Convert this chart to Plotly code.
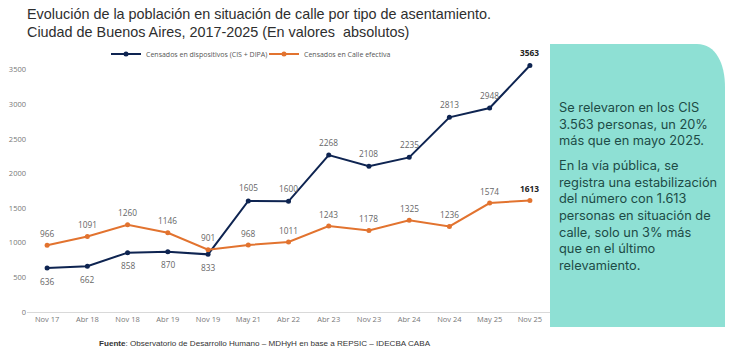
import plotly.graph_objects as go

categories = ["Nov 17", "Abr 18", "Nov 18", "Abr 19", "Nov 19", "May 21", "Abr 22",
              "Abr 23", "Nov 23", "Abr 24", "Nov 24", "May 25", "Nov 25"]
dispositivos = [636, 662, 858, 870, 833, 1605, 1600, 2268, 2108, 2235, 2813, 2948, 3563]
calle = [966, 1091, 1260, 1146, 901, 968, 1011, 1243, 1178, 1325, 1236, 1574, 1613]
disp_label_below = [True, True, True, True, True, False, False, False, False, False, False, False, False]
y_ticks = [0, 500, 1000, 1500, 2000, 2500, 3000, 3500]

NAVY = "#0e2451"
ORANGE = "#e2732f"
W, H = 730, 350
L, R, T, B = 27, 550, 56, 312  # plot area pixels


def px(x):
    return (x - L) / (R - L)


def py(y):
    return (B - y) / (B - T)


fig = go.Figure()
fig.add_trace(go.Scatter(x=categories, y=dispositivos, mode="lines+markers",
                         name="Censados en dispositivos (CIS + DIPA)",
                         line=dict(color=NAVY, width=2), marker=dict(size=5, color=NAVY)))
fig.add_trace(go.Scatter(x=categories, y=calle, mode="lines+markers",
                         name="Censados en Calle efectiva",
                         line=dict(color=ORANGE, width=2), marker=dict(size=5, color=ORANGE)))

ann = []
n = len(categories)
for i, (c, v) in enumerate(zip(categories, dispositivos)):
    txt = f"<b>{v}</b>" if i == n - 1 else str(v)
    ann.append(dict(x=c, y=v, xref="x", yref="y", text=txt, showarrow=False,
                    yshift=-13 if disp_label_below[i] else 13,
                    font=dict(size=8.3, color="#222" if i == n - 1 else "#666", family="Open Sans")))
for i, (c, v) in enumerate(zip(categories, calle)):
    txt = f"<b>{v}</b>" if i == n - 1 else str(v)
    ann.append(dict(x=c, y=v, xref="x", yref="y", text=txt, showarrow=False, yshift=12,
                    font=dict(size=8.3, color="#222" if i == n - 1 else "#666", family="Open Sans")))

# Title (two lines)
title_lines = ["Evolución de la población en situación de calle por tipo de asentamiento.",
               "Ciudad de Buenos Aires, 2017-2025 (En valores  absolutos)"]
for t, yc in zip(title_lines, [14, 32]):
    ann.append(dict(xref="paper", yref="paper", x=px(25), y=py(yc), xanchor="left", yanchor="middle",
                    text=t, showarrow=False, align="left",
                    font=dict(size=14.4, color="#2e2e2e", family="Liberation Sans")))
# Source
ann.append(dict(xref="paper", yref="paper", x=px(97), y=py(343), xanchor="left", yanchor="middle",
                text="<b>Fuente</b>: Observatorio de Desarrollo Humano – MDHyH en base a REPSIC – IDECBA CABA",
                showarrow=False, font=dict(size=8.1, color="#333333", family="Liberation Sans")))
# Side box text
BOXTXT = "#1d4b46"
ann.append(dict(xref="paper", yref="paper", x=px(557), y=py(98), xanchor="left", yanchor="top",
                text="Se relevaron en los CIS<br>3.563 personas, un 20%<br>más que en mayo 2025.",
                showarrow=False, align="left",
                font=dict(size=12.8, color=BOXTXT, family="Inter")))
ann.append(dict(xref="paper", yref="paper", x=px(557), y=py(156), xanchor="left", yanchor="top",
                text="En la vía pública, se<br>registra una estabilización<br>del número con 1.613<br>"
                     "personas en situación de<br>calle, solo un 3% más<br>que en el último<br>relevamiento.",
                showarrow=False, align="left",
                font=dict(size=12.8, color=BOXTXT, family="Inter")))

x0, x1, y0, y1 = px(550), px(725), py(44), py(327)
cx, cy = px(697), py(87)
path = (f"M {x0},{y1} L {x0},{y0} L {cx},{y0} "
        f"C {px(716)},{y0} {x1},{py(64)} {x1},{cy} "
        f"L {x1},{y1} Z")

fig.update_layout(
    width=W, height=H,
    margin=dict(l=L, r=W - R, t=T, b=H - B, autoexpand=False),
    paper_bgcolor="white", plot_bgcolor="white",
    annotations=ann,
    shapes=[dict(type="path", path=path, xref="paper", yref="paper",
                 fillcolor="#8ee0d4", line=dict(width=0), layer="above")],
    legend=dict(orientation="h", x=px(106), y=py(54), xanchor="left", yanchor="middle",
                font=dict(size=7, color="#555", family="Open Sans"),
                bgcolor="rgba(0,0,0,0)", itemwidth=30, entrywidth=113, entrywidthmode="pixels"),
    showlegend=True,
)
fig.update_xaxes(type="category", range=[-0.5, len(categories) - 0.5],
                 showgrid=False, showline=True, linecolor="#d9d9d9", linewidth=1,
                 automargin=False,
                 ticks="", tickfont=dict(size=7.5, color="#777", family="Open Sans"), fixedrange=True)
fig.update_yaxes(range=[0, 3700], tickvals=y_ticks, showgrid=False, zeroline=False, showline=False,
                 automargin=False,
                 ticks="", tickfont=dict(size=7.5, color="#777", family="Open Sans"), fixedrange=True)

fig.write_html("out.html")
